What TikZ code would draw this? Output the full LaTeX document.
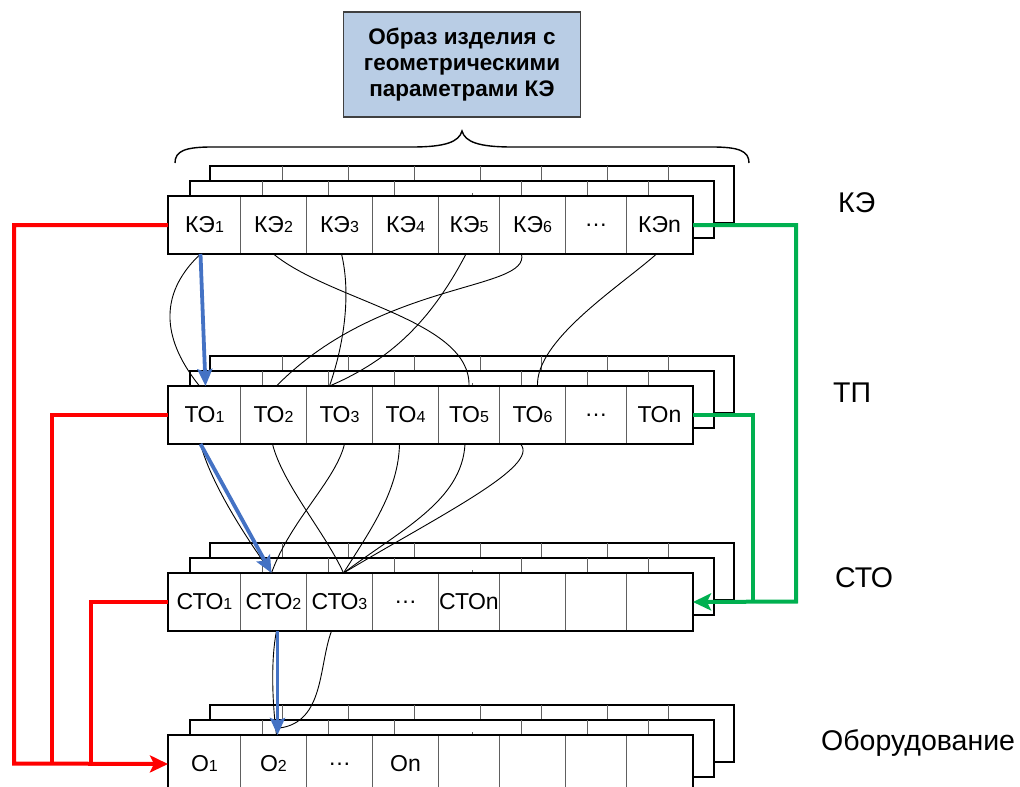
\documentclass[tikz,border=0pt]{standalone}
\usepackage{fontspec}
\setmainfont{Liberation Sans}
\usetikzlibrary{arrows.meta,positioning}
\definecolor{ink}{RGB}{0,0,0}
\definecolor{rule}{RGB}{96,96,96}
\definecolor{redline}{RGB}{255,0,0}
\definecolor{greenline}{RGB}{0,176,80}
\definecolor{blueline}{RGB}{68,114,196}
\definecolor{titlefill}{RGB}{185,205,229}
\definecolor{titleedge}{RGB}{64,64,64}
\newcommand{\ix}[1]{{\fontsize{16pt}{16pt}\selectfont #1}}
\tikzset{
  cell/.style={draw=rule, line width=1pt, fill=white, inner sep=0pt,
              minimum height=57pt, anchor=north west, font=\fontsize{23pt}{23pt}\selectfont},
  frame/.style={draw=ink, line width=1.3pt},
  layer/.style={draw=ink, line width=1.2pt, fill=white},
  divider/.style={draw=rule, line width=1pt},
  link/.style={draw=ink, line width=0.9pt},
  rflow/.style={draw=redline, line width=4pt},
  gflow/.style={draw=greenline, line width=4pt},
  bflow/.style={draw=blueline, line width=3.8pt, -{Stealth[length=17pt,width=15pt,inset=3pt]}},
  bighead/.style={-{Stealth[length=18pt,width=17pt,inset=4pt]}},
  rowlabel/.style={anchor=base west, inner sep=0pt, font=\fontsize{28.5pt}{28.5pt}\selectfont},
  titlebox/.style={draw=titleedge, line width=1.2pt, fill=titlefill, align=center,
              minimum width=237pt, minimum height=105pt, inner sep=0pt,
              font=\bfseries\fontsize{22.5pt}{26pt}\selectfont},
}
% two shifted copies of a row behind the front one
\newcommand{\stack}[1]{%
  \draw[layer] (210,#1-30) rectangle ++(524,57);
  \foreach \x in {282,348,414,480,541,607,668} \draw[divider] (\x,#1-30) -- ++(0,57);
  \draw[layer] (190,#1-15) rectangle ++(524,57);
  \foreach \x in {262,328,394,521,587,648} \draw[divider] (\x,#1-15) -- ++(0,57);
  \draw[divider] (472,#1) -- ++(0,-3);
}
% front row: #1 top, #2 name, #3 texts
\newcommand{\cells}[3]{%
  \foreach \txt [count=\i] in {#3} {
    \pgfmathsetmacro\l{{168,240,306,372,438,499,565,626,692}[\i-1]}
    \pgfmathsetmacro\r{{168,240,306,372,438,499,565,626,692}[\i]}
    \node[cell, minimum width=\r pt-\l pt] (#2\i) at (\l,#1) {\txt};
  }
  \draw[frame] (#21.north west) rectangle (#28.south east);
}

\begin{document}
\begin{tikzpicture}[x=1pt,y=-1pt]
  \useasboundingbox (0,0) rectangle (1020,787);
  \node[titlebox] (image) at (462,64.5) {Образ изделия с\\геометрическими\\параметрами КЭ};
  \draw[ink, line width=1.4pt] (175,163) .. controls (175,151) and (185,147) .. (212,147)
    -- (412,147) .. controls (445,147) and (459,142) .. (462,131)
    .. controls (465,142) and (479,147) .. (512,147) -- (712,147)
    .. controls (739,147) and (749,151) .. (749,163);

  \stack{196}
  \cells{196}{ke}{КЭ\ix1,КЭ\ix2,КЭ\ix3,КЭ\ix4,КЭ\ix5,КЭ\ix6,…,КЭn}
  \stack{386}
  \cells{386}{to}{ТО\ix1,ТО\ix2,ТО\ix3,ТО\ix4,ТО\ix5,ТО\ix6,…,ТОn}
  \stack{573}
  \cells{573}{sto}{СТО\ix1,СТО\ix2,СТО\ix3,…,СТОn,{},{},{}}
  \stack{735}
  \cells{735}{ob}{О\ix1,О\ix2,…,Оn,{},{},{},{}}

  \node[rowlabel] (lab-ke) at (838,212) {КЭ};
  \node[rowlabel] (lab-tp) at (833,402) {ТП};
  \node[rowlabel] (lab-sto) at (835,587) {СТО};
  \node[rowlabel] (lab-ob) at (821,750) {Оборудование};

  % element -> operation
  \draw[link] ([xshift=-4pt]ke1.south) .. controls +(-50,47) and +(-29,-36) .. ([xshift=-5pt]to1.north);
  \draw[link] (ke2.south) .. controls +(57,47) and +(2,-66) .. (to5.north);
  \draw[link] ([xshift=2pt]ke3.south) .. controls +(9,37) and +(16,-46) .. ([xshift=-10pt]to3.north);
  \draw[link] ([xshift=-3pt]ke5.south) .. controls +(-35,67) and +(61,-26) .. ([xshift=-10pt]to3.north);
  \draw[link] ([xshift=-11pt]ke6.south) .. controls +(9,37) and +(104,-106) .. ([xshift=3pt]to2.north);
  \draw[link] ([xshift=-3pt]ke8.south) .. controls +(-36,32) and +(-2,-46) .. ([xshift=5pt]to6.north);
  % operation -> standard operation
  \draw[link] ([xshift=-4pt]to1.south) .. controls +(10,37) and +(-31,-43) .. ([xshift=-2pt]sto2.north);
  \draw[link] ([xshift=-1pt]to2.south) .. controls +(10,40) and +(-18,-40) .. ([xshift=4pt]sto3.north);
  \draw[link] ([xshift=5pt]to3.south) .. controls +(-9,37) and +(19,-53) .. ([xshift=-2pt]sto2.north);
  \draw[link] ([xshift=-6pt]to4.south) .. controls +(-1,47) and +(27,-43) .. ([xshift=4pt]sto3.north);
  \draw[link] ([xshift=-4pt]to5.south) .. controls +(-3,57) and +(57,-43) .. ([xshift=4pt]sto3.north);
  \draw[link] ([xshift=-12pt]to6.south) .. controls +(20,22) and +(97,-58) .. ([xshift=4pt]sto3.north);
  % standard operation -> equipment
  \draw[link] ([xshift=3pt]sto2.south) .. controls +(-6,30) and +(-4,-30) .. ([xshift=3pt]ob2.north);
  \draw[link] ([xshift=-8pt]sto3.south) .. controls +(-13,35) and +(45,-6) .. ([xshift=6pt,yshift=7pt]ob2.north);

  \draw[bflow] ([xshift=-4pt]ke1.south) -- ([xshift=1pt]to1.north);
  \draw[bflow] ([xshift=-4pt]to1.south) -- ([xshift=-2pt]sto2.north);
  \draw[bflow] ([xshift=4pt]sto2.south) -- ([xshift=4pt]ob2.north);

  \coordinate (rj1) at (14,763.5);
  \coordinate (rj2) at (52,763.5);
  \coordinate (rj3) at (91,763.5);
  \draw[rflow,bighead] (ke1.west) -| (rj1) -- (ob1.west);
  \draw[rflow] (to1.west) -| (rj2);
  \draw[rflow] (sto1.west) -| (rj3);

  \coordinate (gj1) at (796,601.5);
  \coordinate (gj2) at (753,601.5);
  \draw[gflow,bighead] (ke8.east) -| (gj1) -- (sto8.east);
  \draw[gflow] (to8.east) -| (gj2);
\end{tikzpicture}
\end{document}
